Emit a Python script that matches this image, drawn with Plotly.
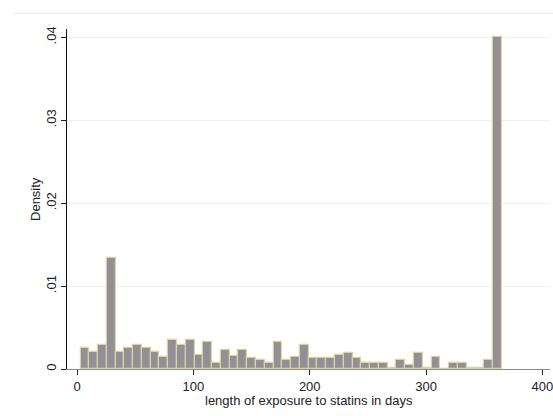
import plotly.graph_objects as go

# Histogram of length of exposure to statins (density), 48 bins from 3 to 365 days
bin_start = 3.0
bin_end = 365.0
density = [
    0.00257, 0.00201, 0.00290, 0.01343, 0.00201, 0.00257, 0.00290, 0.00257,
    0.00201, 0.00141, 0.00346, 0.00290, 0.00346, 0.00165, 0.00322, 0.00076,
    0.00233, 0.00161, 0.00233, 0.00137, 0.00109, 0.00072, 0.00322, 0.00109,
    0.00141, 0.00286, 0.00137, 0.00137, 0.00137, 0.00165, 0.00197, 0.00137,
    0.00072, 0.00072, 0.00072, 0.00016, 0.00109, 0.00048, 0.00197, 0.00016,
    0.00141, 0.00000, 0.00072, 0.00072, 0.00016, 0.00016, 0.00109, 0.04000,
]
x_ticks = [0, 100, 200, 300, 400]
y_ticks = [0, 0.01, 0.02, 0.03, 0.04]
y_tick_labels = ["0", ".01", ".02", ".03", ".04"]
x_title = "length of exposure to statins in days"
y_title = "Density"

n_bins = len(density)
bw = (bin_end - bin_start) / n_bins
centers = [bin_start + bw * (i + 0.5) for i in range(n_bins)]

FONT = "Liberation Sans, Arial, sans-serif"

fig = go.Figure()
fig.add_trace(go.Bar(
    x=centers, y=density, width=bw,
    marker=dict(color="#929096", line=dict(color="#d8d3a0", width=1.2)),
    hoverinfo="x+y",
))

fig.update_layout(
    width=553, height=416,
    margin=dict(l=67, r=3, t=29, b=47, pad=0, autoexpand=False),
    paper_bgcolor="white", plot_bgcolor="white",
    bargap=0, showlegend=False,
    font=dict(family=FONT, size=13, color="#222222"),
    xaxis=dict(
        range=[-8.6, 406.5], tickmode="array", tickvals=x_ticks,
        ticks="outside", ticklen=5, tickcolor="#222222",
        showline=True, linecolor="#8a8a8a", linewidth=1.2,
        showgrid=False, zeroline=False, automargin=False,
        ticklabeloverflow="allow",
        tickfont=dict(family=FONT, size=13, color="#222222"),
    ),
    yaxis=dict(
        range=[0, 0.041], tickmode="array", tickvals=y_ticks, ticktext=y_tick_labels,
        tickangle=-90,
        ticks="outside", ticklen=5, tickcolor="#222222",
        showline=True, linecolor="#111111", linewidth=1.2,
        showgrid=True, gridcolor="#f0f0f0", gridwidth=1,
        zeroline=False, automargin=False,
        tickfont=dict(family=FONT, size=13, color="#222222"),
    ),
    annotations=[
        dict(text=x_title, xref="paper", yref="paper", x=0.5, y=-0.093,
             xanchor="center", yanchor="middle", showarrow=False,
             font=dict(family=FONT, size=13, color="#222222")),
        dict(text=y_title, xref="paper", yref="paper", x=-0.0663, y=0.5,
             xanchor="center", yanchor="middle", showarrow=False, textangle=-90,
             font=dict(family=FONT, size=13, color="#222222")),
    ],
    shapes=[
        dict(type="line", xref="paper", yref="paper", x0=-0.112, x1=1.01,
             y0=1.046, y1=1.046, line=dict(color="#ececec", width=1)),
    ],
)

fig.write_html(
    "out.html",
    config={"displayModeBar": False},
    post_script="document.body.style.margin='0';document.body.style.overflow='hidden';",
)
